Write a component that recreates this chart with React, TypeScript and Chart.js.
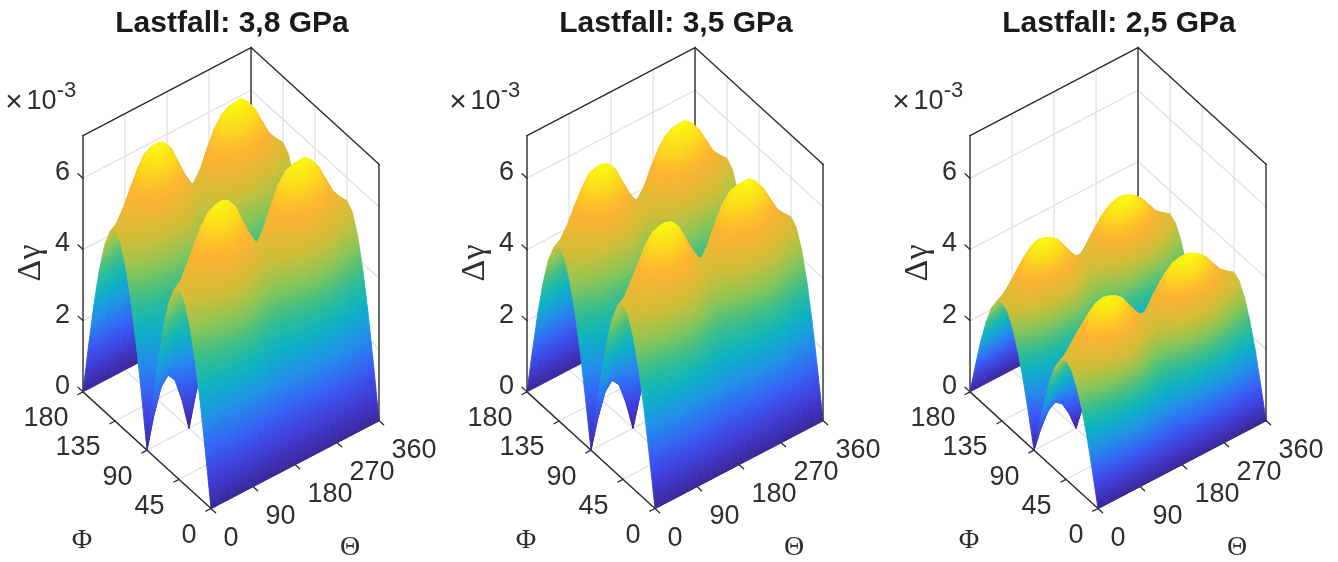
import React, { useEffect, useRef } from "react";
import { Chart, registerables } from "chart.js";

Chart.register(...registerables);

const thetaGrid = [0, 15, 30, 45, 60, 75, 90, 105, 120, 135, 150, 165, 180, 195, 210, 225, 240, 255, 270, 285, 300, 315, 330, 345, 360];
const phiGrid = [0, 7.5, 15, 22.5, 30, 37.5, 45, 52.5, 60, 67.5, 75, 82.5, 90];
const thetaTicks = [0, 90, 180, 270, 360];
const phiTicks = [0, 45, 90, 135, 180];
const zTicks = [0, 2, 4, 6];
const titles = ["Lastfall: 3,8 GPa", "Lastfall: 3,5 GPa", "Lastfall: 2,5 GPa"];

// each row: one value of phi (0..90), the columns run over thetaGrid; unit 1e-3. phi 90..180 mirrors it
const surface38 = [
  [0,0,0,0,0,0,0,0,0,0,0,0,0,0,0,0,0,0,0,0,0,0,0,0,0],
  [1.39,1.42,1.52,1.63,1.75,1.84,1.86,1.84,1.76,1.63,1.52,1.42,1.42,1.50,1.63,1.75,1.83,1.86,1.86,1.81,1.72,1.61,1.50,1.44,1.39],
  [2.68,2.75,2.93,3.15,3.38,3.55,3.60,3.55,3.40,3.15,2.93,2.75,2.75,2.90,3.15,3.38,3.53,3.59,3.60,3.50,3.33,3.10,2.90,2.78,2.68],
  [3.78,3.89,4.14,4.45,4.77,5.02,5.09,5.02,4.81,4.45,4.14,3.89,3.89,4.10,4.45,4.77,4.98,5.08,5.09,4.95,4.70,4.38,4.10,3.92,3.78],
  [4.63,4.78,5.09,5.47,5.86,6.15,6.24,6.15,5.90,5.47,5.08,4.78,4.76,5.04,5.47,5.86,6.11,6.22,6.24,6.07,5.77,5.38,5.04,4.81,4.63],
  [5.17,5.32,5.67,6.12,6.54,6.87,6.96,6.87,6.58,6.12,5.66,5.32,5.32,5.62,6.12,6.54,6.82,6.94,6.96,6.77,6.44,6.03,5.62,5.37,5.17],
  [5.35,5.52,5.90,6.36,6.80,7.11,7.20,7.11,6.85,6.36,5.89,5.52,5.50,5.82,6.35,6.80,7.06,7.19,7.20,7.01,6.70,6.26,5.83,5.57,5.35],
  [5.17,5.34,5.73,6.19,6.59,6.88,6.96,6.88,6.64,6.19,5.73,5.34,5.31,5.63,6.17,6.62,6.88,6.96,6.96,6.78,6.49,6.10,5.69,5.39,5.17],
  [4.63,4.81,5.20,5.62,5.97,6.19,6.24,6.19,6.01,5.62,5.20,4.81,4.76,5.07,5.58,6.00,6.22,6.26,6.24,6.10,5.88,5.54,5.15,4.86,4.63],
  [3.78,3.97,4.35,4.71,4.95,5.08,5.09,5.08,4.99,4.71,4.35,3.97,3.89,4.17,4.64,5.01,5.15,5.14,5.09,5.01,4.88,4.64,4.31,3.99,3.78],
  [2.68,2.88,3.27,3.57,3.68,3.65,3.60,3.65,3.70,3.57,3.27,2.88,2.75,3.02,3.47,3.77,3.82,3.69,3.60,3.60,3.63,3.53,3.24,2.90,2.68],
  [1.39,1.67,2.16,2.41,2.32,2.04,1.86,2.04,2.33,2.41,2.16,1.67,1.42,1.74,2.24,2.49,2.39,2.06,1.86,2.01,2.30,2.39,2.14,1.69,1.39],
  [0,0.90,1.56,1.80,1.56,0.90,0,0.90,1.56,1.80,1.56,0.90,0,0.90,1.56,1.80,1.56,0.90,0,0.90,1.56,1.80,1.56,0.90,0],
];

const surface35 = [
  [0,0,0,0,0,0,0,0,0,0,0,0,0,0,0,0,0,0,0,0,0,0,0,0,0],
  [1.27,1.30,1.39,1.49,1.60,1.68,1.70,1.68,1.61,1.49,1.39,1.30,1.30,1.37,1.49,1.60,1.67,1.70,1.70,1.66,1.57,1.47,1.37,1.32,1.27],
  [2.45,2.52,2.68,2.88,3.09,3.25,3.29,3.25,3.11,2.88,2.68,2.52,2.52,2.65,2.88,3.09,3.23,3.28,3.29,3.20,3.05,2.84,2.65,2.54,2.45],
  [3.46,3.56,3.79,4.07,4.36,4.59,4.66,4.59,4.40,4.07,3.79,3.56,3.56,3.75,4.07,4.36,4.56,4.65,4.66,4.53,4.30,4.01,3.75,3.59,3.46],
  [4.24,4.37,4.66,5.01,5.36,5.63,5.71,5.63,5.40,5.01,4.65,4.37,4.36,4.61,5.01,5.36,5.59,5.69,5.71,5.55,5.28,4.92,4.61,4.40,4.24],
  [4.73,4.87,5.19,5.60,5.98,6.29,6.37,6.29,6.02,5.60,5.18,4.87,4.87,5.14,5.60,5.98,6.24,6.35,6.37,6.19,5.89,5.52,5.14,4.91,4.73],
  [4.90,5.05,5.40,5.82,6.22,6.51,6.59,6.51,6.27,5.82,5.39,5.05,5.03,5.33,5.81,6.22,6.46,6.58,6.59,6.41,6.13,5.73,5.33,5.10,4.90],
  [4.73,4.89,5.24,5.66,6.03,6.30,6.37,6.30,6.08,5.66,5.24,4.89,4.86,5.15,5.65,6.06,6.30,6.37,6.37,6.20,5.94,5.58,5.21,4.93,4.73],
  [4.24,4.40,4.76,5.14,5.46,5.66,5.71,5.66,5.50,5.14,4.76,4.40,4.36,4.64,5.11,5.49,5.69,5.73,5.71,5.58,5.38,5.07,4.71,4.45,4.24],
  [3.46,3.63,3.98,4.31,4.53,4.65,4.66,4.65,4.57,4.31,3.98,3.63,3.56,3.82,4.25,4.58,4.71,4.70,4.66,4.58,4.47,4.25,3.94,3.65,3.46],
  [2.45,2.64,2.99,3.27,3.37,3.34,3.29,3.34,3.39,3.27,2.99,2.64,2.52,2.76,3.18,3.45,3.50,3.38,3.29,3.29,3.32,3.23,2.96,2.65,2.45],
  [1.27,1.53,1.98,2.21,2.12,1.87,1.70,1.87,2.13,2.21,1.98,1.53,1.30,1.59,2.05,2.28,2.19,1.88,1.70,1.84,2.10,2.19,1.96,1.55,1.27],
  [0,0.82,1.43,1.65,1.43,0.82,0,0.82,1.43,1.65,1.43,0.82,0,0.82,1.43,1.65,1.43,0.82,0,0.82,1.43,1.65,1.43,0.82,0],
];

const surface25 = [
  [0,0,0,0,0,0,0,0,0,0,0,0,0,0,0,0,0,0,0,0,0,0,0,0,0],
  [0.87,0.89,0.95,1.02,1.09,1.15,1.16,1.15,1.10,1.02,0.95,0.89,0.89,0.94,1.02,1.09,1.14,1.16,1.16,1.13,1.08,1.01,0.94,0.90,0.87],
  [1.68,1.72,1.83,1.97,2.11,2.22,2.25,2.22,2.13,1.97,1.83,1.72,1.72,1.81,1.97,2.11,2.21,2.24,2.25,2.19,2.08,1.94,1.81,1.74,1.68],
  [2.36,2.43,2.59,2.78,2.98,3.14,3.18,3.14,3.01,2.78,2.59,2.43,2.43,2.56,2.78,2.98,3.11,3.18,3.18,3.09,2.94,2.74,2.56,2.45,2.36],
  [2.89,2.99,3.18,3.42,3.66,3.84,3.90,3.84,3.69,3.42,3.18,2.99,2.98,3.15,3.42,3.66,3.82,3.89,3.90,3.79,3.61,3.36,3.15,3.01,2.89],
  [3.23,3.33,3.54,3.83,4.09,4.29,4.35,4.29,4.11,3.83,3.54,3.33,3.33,3.51,3.83,4.09,4.26,4.34,4.35,4.23,4.03,3.77,3.51,3.36,3.23],
  [3.34,3.45,3.69,3.98,4.25,4.44,4.50,4.44,4.28,3.98,3.68,3.45,3.44,3.64,3.97,4.25,4.41,4.49,4.50,4.38,4.19,3.91,3.64,3.48,3.34],
  [3.23,3.34,3.58,3.87,4.12,4.30,4.35,4.30,4.15,3.87,3.58,3.34,3.32,3.52,3.86,4.14,4.30,4.35,4.35,4.24,4.06,3.81,3.56,3.37,3.23],
  [2.89,3.01,3.25,3.51,3.73,3.87,3.90,3.87,3.76,3.51,3.25,3.01,2.98,3.17,3.49,3.75,3.89,3.91,3.90,3.81,3.68,3.46,3.22,3.04,2.89],
  [2.36,2.48,2.72,2.94,3.09,3.18,3.18,3.18,3.12,2.94,2.72,2.48,2.43,2.61,2.90,3.13,3.22,3.21,3.18,3.13,3.05,2.90,2.69,2.49,2.36],
  [1.68,1.80,2.04,2.23,2.30,2.28,2.25,2.28,2.31,2.23,2.04,1.80,1.72,1.89,2.17,2.36,2.39,2.31,2.25,2.25,2.27,2.21,2.03,1.81,1.68],
  [0.87,1.04,1.35,1.51,1.45,1.28,1.16,1.28,1.46,1.51,1.35,1.04,0.89,1.09,1.40,1.56,1.49,1.29,1.16,1.26,1.44,1.49,1.34,1.06,0.87],
  [0,0.52,0.90,1.04,0.90,0.52,0,0.52,0.90,1.04,0.90,0.52,0,0.52,0.90,1.04,0.90,0.52,0,0.52,0.90,1.04,0.90,0.52,0],
];

const surfaces = [surface38, surface35, surface25];
const canvasLefts = [0, 444, 887];

const colormap: number[][] = [
  [0, 60, 40, 155],
  [0.1, 65, 60, 215],
  [0.2, 55, 95, 245],
  [0.3, 35, 140, 235],
  [0.42, 12, 180, 195],
  [0.52, 55, 190, 140],
  [0.62, 140, 198, 85],
  [0.72, 210, 190, 55],
  [0.85, 255, 178, 50],
  [0.93, 252, 215, 30],
  [1, 249, 250, 14],
];

const INK = "#2b2b2b";
const GRID = "#dedede";
const ZMAX = 7.2;
const TITLE_BOTTOM = 40;

function project(theta: number, phi: number, z: number) {
  return {
    x: 211 + 0.4667 * theta - 0.711 * phi,
    y: 508.5 - 0.2444 * theta - 0.648 * phi - 35.6 * z,
  };
}

function colorAt(t: number) {
  const v = Math.min(1, Math.max(0, t));
  for (let i = 1; i < colormap.length; i++) {
    const a = colormap[i - 1];
    const b = colormap[i];
    if (v <= b[0]) {
      const f = (v - a[0]) / (b[0] - a[0]);
      const mix = (k: number) => Math.round(a[k] + (b[k] - a[k]) * f);
      return `rgb(${mix(1)},${mix(2)},${mix(3)})`;
    }
  }
  return "rgb(249,250,14)";
}

type P = { x: number; y: number; z: number };

function quadPaint(chart: any, pts: P[], clim: number) {
  const sx = chart.scales.x;
  const sy = chart.scales.y;
  const px = pts.map((p) => ({ x: sx.getPixelForValue(p.x), y: sy.getPixelForValue(p.y), z: p.z }));
  const zs = px.map((p) => p.z);
  const lo = Math.min(...zs);
  const hi = Math.max(...zs);
  if (hi - lo < 0.004) return colorAt((lo + hi) / 2 / clim);
  const dx1 = px[2].x - px[0].x, dy1 = px[2].y - px[0].y, dz1 = px[2].z - px[0].z;
  const dx2 = px[3].x - px[1].x, dy2 = px[3].y - px[1].y, dz2 = px[3].z - px[1].z;
  const det = dx1 * dy2 - dx2 * dy1;
  const pl = px[zs.indexOf(lo)];
  const ph = px[zs.indexOf(hi)];
  let x0 = pl.x, y0 = pl.y, x1 = ph.x, y1 = ph.y;
  if (Math.abs(det) > 0.5) {
    const a = (dz1 * dy2 - dz2 * dy1) / det;
    const b = (dx1 * dz2 - dx2 * dz1) / det;
    const g2 = a * a + b * b;
    if (g2 > 1e-7) {
      const cx = px.reduce((s, p) => s + p.x, 0) / 4;
      const cy = px.reduce((s, p) => s + p.y, 0) / 4;
      const cz = zs.reduce((s, z) => s + z, 0) / 4;
      x0 = cx + ((lo - cz) * a) / g2;
      y0 = cy + ((lo - cz) * b) / g2;
      x1 = cx + ((hi - cz) * a) / g2;
      y1 = cy + ((hi - cz) * b) / g2;
    }
  }
  const g = chart.ctx.createLinearGradient(x0, y0, x1, y1);
  for (let i = 0; i <= 4; i++) g.addColorStop(i / 4, colorAt((lo + ((hi - lo) * i) / 4) / clim));
  return g;
}

function segment(a: number[], b: number[], color: string, width: number) {
  const p = project(a[0], a[1], a[2]);
  const q = project(b[0], b[1], b[2]);
  return {
    data: [p, q],
    borderColor: color,
    borderWidth: width,
    pointRadius: 0,
    fill: false,
    clip: false as const,
    borderCapStyle: "round",
  };
}

function frameLayers() {
  const out: any[] = [];
  for (const t of thetaTicks.slice(1, 4)) {
    out.push(segment([t, 180, 0], [t, 180, ZMAX], GRID, 1.2));
    out.push(segment([t, 0, 0], [t, 180, 0], GRID, 1.2));
  }
  for (const p of phiTicks.slice(1, 4)) {
    out.push(segment([360, p, 0], [360, p, ZMAX], GRID, 1.2));
    out.push(segment([0, p, 0], [360, p, 0], GRID, 1.2));
  }
  for (const z of zTicks.slice(1)) {
    out.push(segment([0, 180, z], [360, 180, z], GRID, 1.2));
    out.push(segment([360, 180, z], [360, 0, z], GRID, 1.2));
  }
  // box
  out.push(segment([0, 180, 0], [0, 180, ZMAX], INK, 1.4));
  out.push(segment([360, 180, 0], [360, 180, ZMAX], INK, 1.4));
  out.push(segment([360, 0, 0], [360, 0, ZMAX], INK, 1.4));
  out.push(segment([0, 180, ZMAX], [360, 180, ZMAX], INK, 1.4));
  out.push(segment([360, 180, ZMAX], [360, 0, ZMAX], INK, 1.4));
  out.push(segment([0, 0, 0], [0, 180, 0], INK, 1.4));
  out.push(segment([0, 0, 0], [360, 0, 0], INK, 1.4));
  // tick marks
  for (const t of thetaTicks) out.push(segment([t, 0, 0], [t, -6.5, 0], INK, 1.3));
  for (const p of phiTicks) out.push(segment([0, p, 0], [-11, p, 0], INK, 1.3));
  for (const z of zTicks) out.push(segment([0, 180, z], [0, 187, z], INK, 1.3));
  return out;
}

function surfaceLayers(rows: number[][]) {
  const fullPhi = [...phiGrid, ...phiGrid.slice(0, -1).reverse().map((p) => 180 - p)];
  const fullRows = [...rows, ...rows.slice(0, -1).reverse()];
  const clim = Math.max(...rows.flat());
  const out: any[] = [];
  for (let i = thetaGrid.length - 2; i >= 0; i--) {
    for (let j = fullPhi.length - 2; j >= 0; j--) {
      const corners: number[][] = [
        [i, j],
        [i + 1, j],
        [i + 1, j + 1],
        [i, j + 1],
      ];
      const pts: P[] = corners.map(([a, b]) => {
        const z = fullRows[b][a];
        return { ...project(thetaGrid[a], fullPhi[b], z), z };
      });
      let cached: any = null;
      const paint = (ctx: any) => {
        // the controllers are reset once before the first layout, when the scales have no pixels yet
        if (!ctx.chart.chartArea) return "transparent";
        if (!cached) cached = quadPaint(ctx.chart, pts, clim);
        return cached;
      };
      out.push({
        data: [...pts.map((p) => ({ x: p.x, y: p.y })), { x: pts[0].x, y: pts[0].y }],
        backgroundColor: paint,
        borderColor: paint,
        borderWidth: 0.9,
        borderJoinStyle: "round",
        pointRadius: 0,
        tension: 0,
        fill: "shape",
        clip: false as const,
      });
    }
  }
  return out;
}

const labelPlugin = {
  id: "boxLabels",
  afterDraw(chart: any) {
    const { ctx, scales } = chart;
    const sx = scales.x;
    const sy = scales.y;
    const put = (text: string, x: number, y: number, font: string, align: CanvasTextAlign = "center") => {
      ctx.font = font;
      ctx.textAlign = align;
      ctx.textBaseline = "middle";
      ctx.fillText(text, sx.getPixelForValue(x), sy.getPixelForValue(y));
    };
    const tickFont = '27px "Liberation Sans"';
    ctx.save();
    ctx.fillStyle = "#2f2f2f";
    for (const t of thetaTicks) {
      const p = project(t, 0, 0);
      put(String(t), p.x + 12.5, p.y + 30, tickFont, "left");
    }
    for (const f of phiTicks) {
      const p = project(0, f, 0);
      put(String(f), p.x - 14.5, p.y + 27, tickFont, "right");
    }
    for (const z of zTicks) {
      const p = project(0, 180, z);
      put(String(z), p.x - 13, p.y - 5.5, tickFont, "right");
    }
    put("×", 14, 103, '30px "Liberation Sans"');
    put("10", 41.5, 102, tickFont);
    put("-3", 66.5, 91, '22px "Liberation Sans"');
    put("Φ", 82, 541, '28px "Liberation Serif"');
    put("Θ", 350, 548, '28px "Liberation Serif"');
    ctx.translate(sx.getPixelForValue(31), sy.getPixelForValue(263));
    ctx.rotate(-Math.PI / 2);
    ctx.font = '34px "Liberation Serif"';
    ctx.textAlign = "center";
    ctx.textBaseline = "middle";
    ctx.fillText("Δγ", 0, 0);
    ctx.restore();
  },
};

function Panel({ index }: { index: number }) {
  const ref = useRef<HTMLCanvasElement>(null);
  useEffect(() => {
    const layers = [...frameLayers(), ...surfaceLayers(surfaces[index])];
    const chart = new Chart(ref.current as HTMLCanvasElement, {
      type: "line",
      data: { datasets: layers.reverse() as any },
      plugins: [labelPlugin],
      options: {
        animation: false,
        responsive: false,
        events: [],
        layout: { padding: 0 },
        plugins: {
          legend: { display: false },
          tooltip: { enabled: false },
          title: {
            display: true,
            text: titles[index],
            color: "#1a1a1a",
            font: { family: '"Liberation Sans"', size: 30, weight: "bold", lineHeight: 1 },
            padding: { top: 9, bottom: 1 },
          },
        },
        scales: {
          x: { type: "linear", display: false, min: 0, max: 464 },
          y: { type: "linear", display: false, min: TITLE_BOTTOM, max: 562, reverse: true },
        },
      } as any,
    });
    return () => chart.destroy();
  }, [index]);
  return (
    <canvas
      ref={ref}
      width={464}
      height={562}
      style={{ position: "absolute", left: canvasLefts[index], top: 0, width: 464, height: 562 }}
    />
  );
}

export default function App() {
  return (
    <div style={{ position: "fixed", left: 0, top: 0, width: 1338, height: 562, overflow: "hidden", background: "#fff" }}>
      {surfaces.map((_, i) => (
        <Panel key={i} index={i} />
      ))}
    </div>
  );
}
